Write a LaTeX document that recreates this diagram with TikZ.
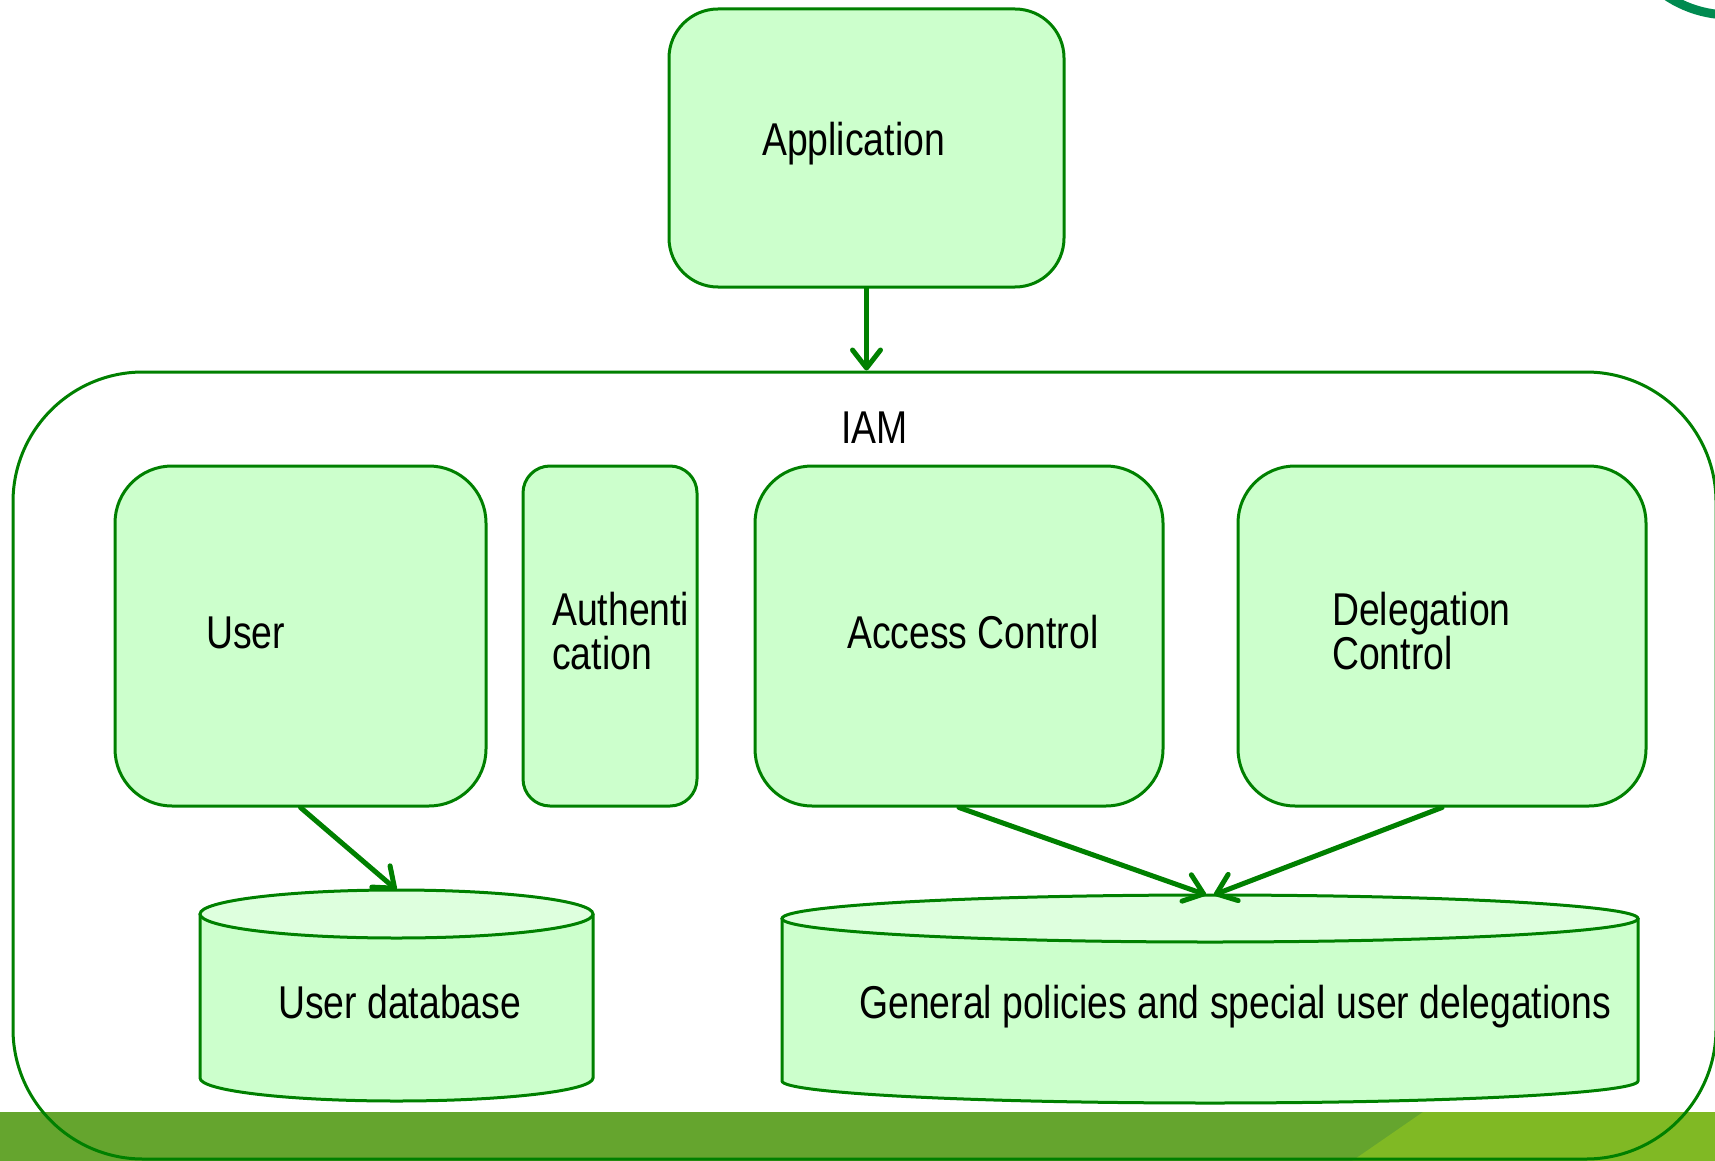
\documentclass[tikz,border=0pt]{standalone}
\usepackage{fontspec}
\setmainfont{Liberation Sans}[FakeStretch=0.812]
\usetikzlibrary{arrows.meta,calc}

\definecolor{edge}{RGB}{0,128,0}
\definecolor{boxfill}{RGB}{204,255,204}
\definecolor{capfill}{RGB}{222,255,222}
\definecolor{banddark}{RGB}{101,165,46}
\definecolor{bandlight}{RGB}{128,185,36}
\definecolor{ringgreen}{RGB}{0,138,80}

\tikzset{
  box/.style={draw=edge, fill=boxfill, line width=3pt, inner sep=0pt},
  frame/.style={draw=edge, line width=3pt, inner sep=0pt},
  lbl/.style={inner sep=0pt, text=black, font=\fontsize{46}{44}\selectfont, align=left},
  flow/.style={draw=edge, line width=5pt, line cap=round,
    -{Straight Barb[length=18pt,width=28pt,line width=5pt,round]}},
  cylline/.style={draw=edge, line width=3pt},
}

\begin{document}
\begin{tikzpicture}[x=1pt,y=-1pt]
\useasboundingbox (0,0) rectangle (1715,1161);

% footer band
\fill[banddark] (0,1112) rectangle (1715,1161);
\fill[bandlight] (1423,1112) -- (1715,1112) -- (1715,1161) -- (1352,1161) -- cycle;

% corner ring
\begin{scope}
\clip (0,0) rectangle (1715,1161);
\draw[ringgreen, line width=9pt] (1730,-100) circle[radius=115pt];
\end{scope}

% IAM frame
\node[frame, rounded corners=130pt, minimum width=1703pt, minimum height=787pt] (iam) at (864.5,765.5) {};
\node[lbl, anchor=base west] (tiam) at (841,443) {IAM};

% top-level application
\node[box, rounded corners=49pt, minimum width=395pt, minimum height=278pt] (app) at (866.5,148) {};
\node[lbl, anchor=base west] (tapp) at (762,156) {Application};

% IAM components
\node[box, rounded corners=57pt, minimum width=371pt, minimum height=340pt] (user) at (300.5,636) {};
\node[lbl, anchor=base west] (tuser) at (206,648) {User};

\node[box, rounded corners=27pt, minimum width=174pt, minimum height=340pt] (auth) at (610,636) {};
\node[lbl, anchor=base west] (tauth) at (552,669) {Authenti\\cation};

\node[box, rounded corners=57pt, minimum width=408pt, minimum height=340pt] (access) at (959,636) {};
\node[lbl, anchor=base west] (taccess) at (847,648) {Access Control};

\node[box, rounded corners=57pt, minimum width=408pt, minimum height=340pt] (deleg) at (1442,636) {};
\node[lbl, anchor=base west] (tdeleg) at (1332,669) {Delegation\\Control};

% user database cylinder
\node[inner sep=0pt, minimum width=393pt, minimum height=211pt] (udb) at (396.5,995.5) {};
\fill[boxfill] (200,914) -- (200,1078) arc[start angle=180, end angle=360, x radius=196.5pt, y radius=23pt] -- (593,914) -- cycle;
\draw[cylline] (200,914) -- (200,1078) arc[start angle=180, end angle=360, x radius=196.5pt, y radius=23pt] -- (593,914);
\filldraw[cylline, fill=capfill] (396.5,914) ellipse[x radius=196.5pt, y radius=24pt];
\node[lbl, anchor=base west] (tudb) at (278,1018) {User database};

% policy store cylinder
\node[inner sep=0pt, minimum width=856pt, minimum height=208pt] (pdb) at (1210,999) {};
\fill[boxfill] (782,918) -- (782,1081) arc[start angle=180, end angle=360, x radius=428pt, y radius=22pt] -- (1638,918) -- cycle;
\draw[cylline] (782,918) -- (782,1081) arc[start angle=180, end angle=360, x radius=428pt, y radius=22pt] -- (1638,918);
\filldraw[cylline, fill=capfill] (1210,918.5) ellipse[x radius=428pt, y radius=23.5pt];
\node[lbl, anchor=base west] (tpdb) at (859,1018) {General policies and special user delegations};

% connectors
\draw[flow] (app.south) -- (app.south |- iam.north);
\draw[flow] (user.south) -- (udb.north);
\draw[flow] (access.south) -- ([xshift=-4pt]pdb.north);
\draw[flow] (deleg.south) -- ([xshift=4pt]pdb.north);
\end{tikzpicture}
\end{document}
